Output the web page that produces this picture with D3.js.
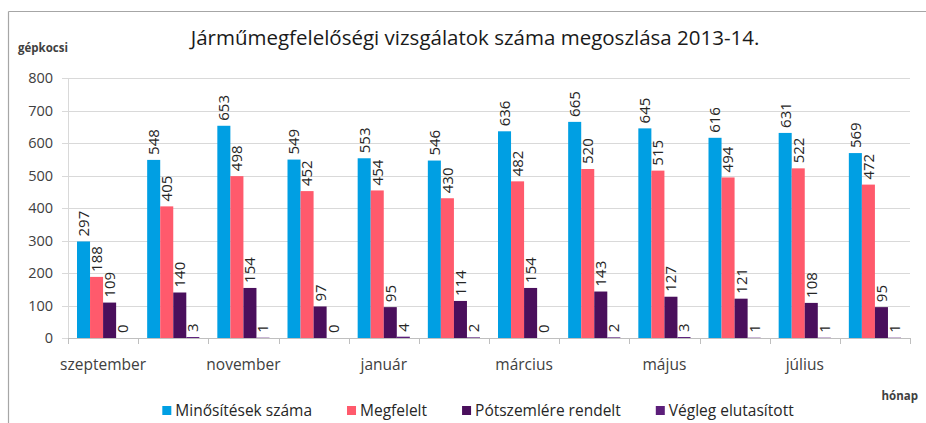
<!DOCTYPE html>
<html>
<head>
<meta charset="utf-8">
<script src="https://cdn.jsdelivr.net/npm/d3@7"></script>
<style>
  body { margin: 0; background: #fff; }
  svg { display: block; font-family: "Open Sans", sans-serif; }
</style>
</head>
<body>
<div id="chart"></div>
<script>
// months on the x axis
const months = ["szeptember", "október", "november", "december", "január", "február",
                "március", "április", "május", "június", "július", "augusztus"];

// series values
const minositesek = [297, 548, 653, 549, 553, 546, 636, 665, 645, 616, 631, 569];
const megfelelt   = [188, 405, 498, 452, 454, 430, 482, 520, 515, 494, 522, 472];
const potszemle   = [109, 140, 154, 97, 95, 114, 154, 143, 127, 121, 108, 95];
const vegleg      = [0, 3, 1, 0, 4, 2, 0, 2, 3, 1, 1, 1];

const seriesNames = ["Minősítések száma", "Megfelelt", "Pótszemlére rendelt", "Végleg elutasított"];
const seriesColors = ["#009fe3", "#ff5a6c", "#4a0f5c", "#5c1e7a"];
const yTicks = [0, 100, 200, 300, 400, 500, 600, 700, 800];

const series = [minositesek, megfelelt, potszemle, vegleg].map((vals, i) => ({
    key: "s" + i, name: seriesNames[i], color: seriesColors[i], values: vals
}));

const W = 926, H = 423;
const margin = { top: 78, right: 16, bottom: 85, left: 68 };
const width = W - margin.left - margin.right;
const height = H - margin.top - margin.bottom;

const svg = d3.select("#chart").append("svg")
    .attr("width", W)
    .attr("height", H);

// frame lines (top + left, like the cropped screenshot)
svg.append("line").attr("x1", 8.5).attr("x2", W).attr("y1", 11.5).attr("y2", 11.5)
    .attr("stroke", "#a6a6a6").attr("stroke-width", 1.2);
svg.append("line").attr("x1", 8.5).attr("x2", 8.5).attr("y1", 11.5).attr("y2", H)
    .attr("stroke", "#a6a6a6").attr("stroke-width", 1.2);

const g = svg.append("g").attr("transform", `translate(${margin.left},${margin.top})`);

const x0 = d3.scaleBand().domain(months).range([0, width]).paddingInner(0).paddingOuter(0);
const x1 = d3.scaleBand().domain(series.map(s => s.key))
    .range([0, x0.bandwidth()]).paddingOuter(0.69).paddingInner(0);
const y = d3.scaleLinear().domain([0, 800]).range([height, 0]);

// gridlines
g.append("g").selectAll("line").data(yTicks).join("line")
    .attr("x1", -6).attr("x2", width)
    .attr("y1", d => Math.round(y(d)) + 0.5).attr("y2", d => Math.round(y(d)) + 0.5)
    .attr("stroke", "#d9d9d9");

// y axis line
g.append("line").attr("x1", 0.5).attr("x2", 0.5).attr("y1", 0).attr("y2", height)
    .attr("stroke", "#d9d9d9");

// y tick labels
g.append("g").selectAll("text").data(yTicks).join("text")
    .attr("x", -15).attr("y", d => y(d)).attr("dy", "0.35em")
    .attr("text-anchor", "end")
    .attr("font-size", "14.5px").attr("fill", "#404040")
    .text(d => d);

// x axis
const xAxis = g.append("g").attr("transform", `translate(0,${height})`);
xAxis.append("line").attr("x1", 0).attr("x2", width).attr("y1", 0.5).attr("y2", 0.5)
    .attr("stroke", "#bfbfbf");
xAxis.selectAll("line.tick").data(months.concat(["end"])).join("line")
    .attr("class", "tick")
    .attr("x1", (d, i) => Math.round(i * x0.step()) + 0.5)
    .attr("x2", (d, i) => Math.round(i * x0.step()) + 0.5)
    .attr("y1", 0).attr("y2", 6)
    .attr("stroke", "#bfbfbf");
xAxis.selectAll("text").data(months.filter((d, i) => i % 2 === 0)).join("text")
    .attr("x", d => x0(d) + x0.bandwidth() / 2)
    .attr("y", 32)
    .attr("text-anchor", "middle")
    .attr("font-size", "15.5px").attr("fill", "#404040")
    .text(d => d);

// bars
const groups = g.selectAll("g.month").data(months).join("g")
    .attr("class", "month")
    .attr("transform", d => `translate(${x0(d)},0)`);

groups.selectAll("rect").data((m, mi) => series.map(s => ({ s, v: s.values[mi] }))).join("rect")
    .attr("x", d => x1(d.s.key))
    .attr("width", x1.bandwidth())
    .attr("y", d => y(d.v))
    .attr("height", d => height - y(d.v))
    .attr("fill", d => d.s.color);

// rotated data labels
groups.selectAll("text").data((m, mi) => series.map(s => ({ s, v: s.values[mi] }))).join("text")
    .attr("transform", d => `translate(${x1(d.s.key) + x1.bandwidth() / 2},${y(d.v) - 5}) rotate(-90)`)
    .attr("dy", "0.36em")
    .attr("text-anchor", "start")
    .attr("font-size", "15px").attr("fill", "#262626")
    .text(d => d.v);

// title
svg.append("text")
    .attr("x", 475).attr("y", 45)
    .attr("text-anchor", "middle")
    .attr("font-size", "20.5px").attr("fill", "#1a1a1a")
    .text("Járműmegfelelőségi vizsgálatok száma megoszlása 2013-14.");

// axis titles
svg.append("text").attr("x", 18).attr("y", 52)
    .attr("font-size", "11.5px").attr("font-weight", "bold").attr("fill", "#404040")
    .text("gépkocsi");
svg.append("text").attr("x", 918).attr("y", 400)
    .attr("text-anchor", "end")
    .attr("font-size", "11.5px").attr("font-weight", "bold").attr("fill", "#404040")
    .text("hónap");

// legend
const legend = svg.append("g");
const items = legend.selectAll("g").data(series).join("g");
items.append("rect").attr("width", 9).attr("height", 9).attr("y", -10)
    .attr("fill", d => d.color);
items.append("text").attr("x", 13).attr("y", 0)
    .attr("font-size", "15.5px").attr("fill", "#262626")
    .text(d => d.name);
let lx = 0;
items.each(function () {
    d3.select(this).attr("transform", `translate(${lx},0)`);
    lx += 13 + this.querySelector("text").getComputedTextLength() + 35;
});
const legendWidth = lx - 35;
legend.attr("transform", `translate(${478 - legendWidth / 2},416)`);
</script>
</body>
</html>
